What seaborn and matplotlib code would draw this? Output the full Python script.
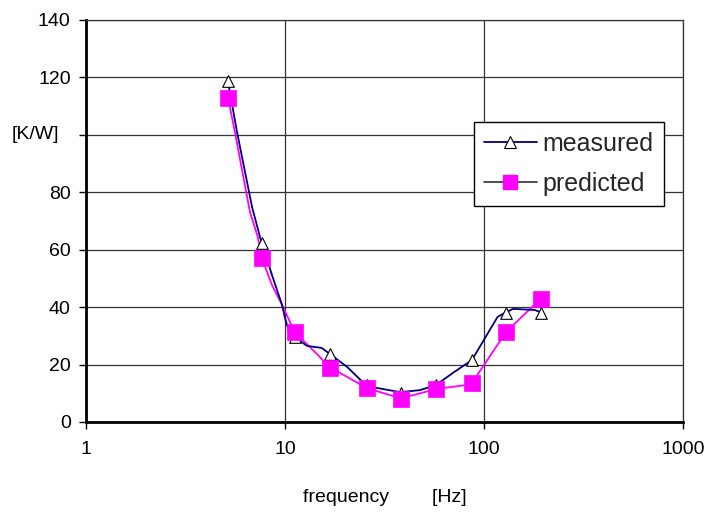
import matplotlib
matplotlib.use("Agg")
import matplotlib.pyplot as plt
import seaborn as sns
import pandas as pd
import numpy as np
from matplotlib.lines import Line2D

# ---- data ----
marker_freq = [5.17, 7.66, 11.2, 16.8, 25.8, 38.3, 57.4, 87, 129, 193]
measured_vals = [118.6, 62.3, 29.6, 23.7, 12.9, 10.1, 12.9, 21.6, 38.0, 38.1]
predicted_vals = [113.0, 57.0, 31.3, 18.8, 11.8, 8.0, 11.5, 13.6, 31.3, 43.0]

meas_line_freq = [5.17, 5.74, 6.83, 7.49, 7.66, 8.6, 9.66, 10.0, 10.6, 11.2, 12.9, 15.3,
                  16.8, 20.5, 25.8, 37.8, 47.7, 57.4, 69.8, 87, 117, 129, 140, 180, 193]
meas_line_vals = [118.6, 101, 74.9, 64.4, 62.3, 51.2, 40.8, 36.2, 30.3, 29.6, 26.5, 25.8,
                  23.7, 19.2, 12.5, 10.4, 11.1, 12.9, 17.1, 21.6, 36.6, 38.2, 39.4, 39.0, 38.2]

pred_line_freq = [5.17, 5.6, 6.67, 7.3, 7.66, 8.6, 9.66, 11.2, 15.0, 16.8, 18.9, 25.8,
                  38.3, 57.4, 81.8, 87, 129, 193]
pred_line_vals = [113.0, 101, 73.1, 64.4, 57.0, 47.7, 40.8, 31.3, 22.6, 18.8, 17.1, 11.8,
                  8.2, 11.5, 12.9, 13.6, 31.3, 43.0]

y_ticks = [0, 20, 40, 60, 80, 100, 120, 140]
y_ticklabels = ["0", "20", "40", "60", "80", "", "120", "140"]
x_ticks = [1, 10, 100, 1000]
x_ticklabels = ["1", "10", "100", "1000"]
series_names = ["measured", "predicted"]

# ---- style ----
sns.set_theme(style="white")
plt.rcParams["font.family"] = ["Liberation Sans", "DejaVu Sans"]

fig = plt.figure(figsize=(7.04, 5.13), dpi=100)
ax = fig.add_axes([86 / 704, 1 - 422 / 513, (683 - 86) / 704, (422 - 20) / 513])

navy = "#000080"
magenta = "#FF00FF"

pred_line_df = pd.DataFrame({"f": pred_line_freq, "v": pred_line_vals})
meas_line_df = pd.DataFrame({"f": meas_line_freq, "v": meas_line_vals})
mark_df = pd.DataFrame({"f": marker_freq, "m": measured_vals, "p": predicted_vals})

sns.lineplot(data=pred_line_df, x="f", y="v", sort=False, color=magenta, lw=1.3,
             ax=ax, zorder=3, estimator=None)
sns.lineplot(data=meas_line_df, x="f", y="v", sort=False, color=navy, lw=1.3,
             ax=ax, zorder=4, estimator=None)
sns.scatterplot(data=mark_df, x="f", y="m", marker="^", s=70, color="white",
                edgecolor="black", linewidth=0.8, ax=ax, zorder=5)
sns.scatterplot(data=mark_df, x="f", y="p", marker="s", s=120, color=magenta,
                edgecolor=magenta, linewidth=0.5, ax=ax, zorder=6)

ax.set_xscale("log")
ax.set_xlim(1, 1000)
ax.set_ylim(0, 140)
ax.set_xticks(x_ticks)
ax.set_xticklabels(x_ticklabels)
ax.xaxis.set_minor_locator(matplotlib.ticker.NullLocator())
ax.set_yticks(y_ticks)
ax.set_yticklabels(y_ticklabels)

ax.grid(True, which="major", color="#333333", lw=0.9)
ax.set_axisbelow(True)

for side in ["left", "bottom"]:
    ax.spines[side].set_color("black")
    ax.spines[side].set_linewidth(2.0)
for side in ["top", "right"]:
    ax.spines[side].set_color("#333333")
    ax.spines[side].set_linewidth(0.9)

ax.tick_params(axis="both", which="major", direction="out", length=5, width=1,
               color="black", labelsize=14, labelcolor="black", left=True, bottom=True)
ax.tick_params(axis="y", pad=6)
ax.tick_params(axis="x", pad=9)

ax.set_xlabel("frequency        [Hz]", fontsize=14, color="black", labelpad=22)
ax.set_ylabel("[K/W]", fontsize=14, color="black", rotation=0, ha="center", va="center")
ax.yaxis.set_label_coords((35 - 86) / 597, 100 / 140)

handles = [
    Line2D([0], [0], color=navy, lw=1.3, marker="^", markersize=8.5,
           markerfacecolor="white", markeredgecolor="black", markeredgewidth=0.8),
    Line2D([0], [0], color="#404040", lw=1.3, marker="s", markersize=10.5,
           markerfacecolor=magenta, markeredgecolor=magenta),
]
leg = ax.legend(handles, series_names, loc="upper left",
                bbox_to_anchor=((474 - 86) / 597, (422 - 122) / 402), borderaxespad=0,
                fontsize=18, frameon=True, fancybox=False, shadow=False,
                handlelength=2.1, handletextpad=0.25, labelspacing=0.62,
                borderpad=0.4)
leg.get_frame().set_edgecolor("black")
leg.get_frame().set_linewidth(1.0)
leg.get_frame().set_facecolor("white")
leg.get_frame().set_alpha(1)

fig.savefig("out.png", dpi=100)
